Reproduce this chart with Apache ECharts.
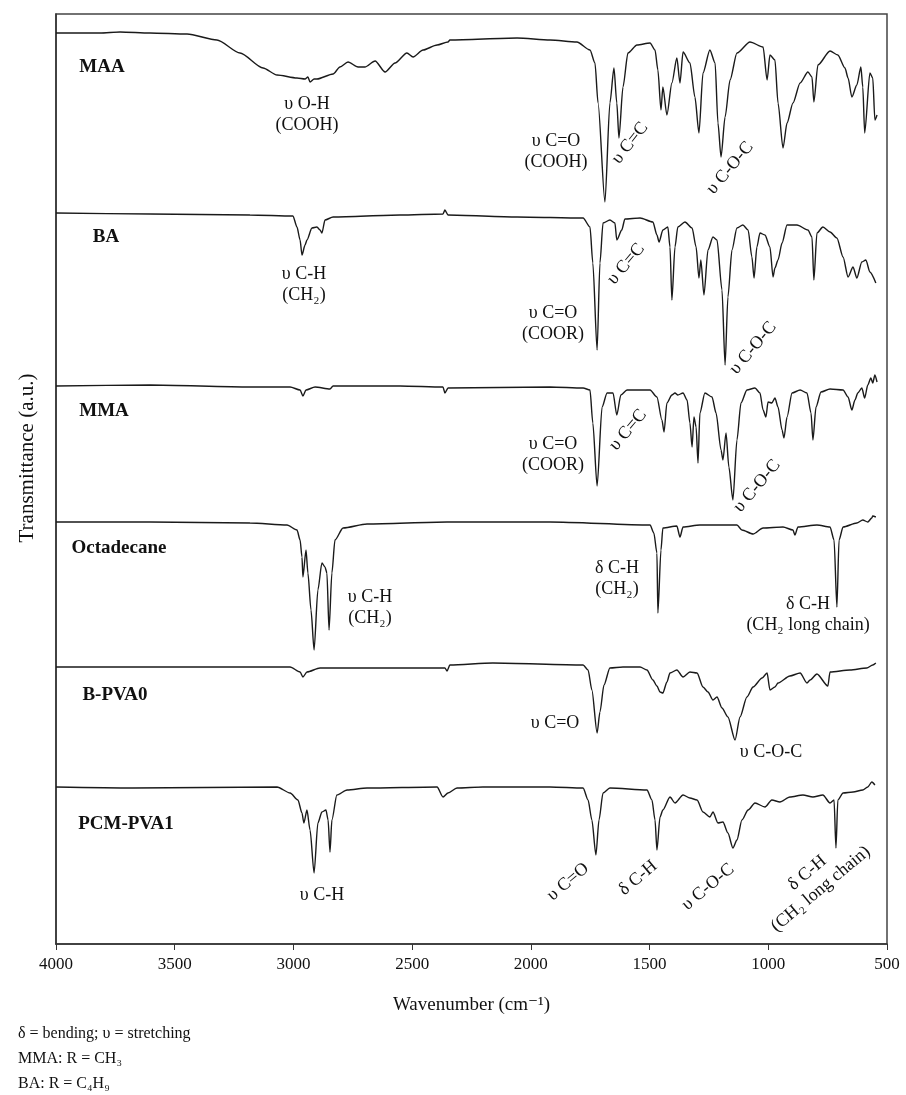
<!DOCTYPE html>
<html>
<head>
<meta charset="utf-8">
<script src="https://cdn.jsdelivr.net/npm/echarts@6/dist/echarts.min.js"></script>
<style>
  html, body { margin: 0; padding: 0; background: #fff; }
  #chart { width: 906px; height: 1095px; }
</style>
</head>
<body>
<div id="chart"></div>
<script>
// FTIR spectra, [wavenumber (cm-1), transmittance (a.u., stacked)]
var xTicks = [4000, 3500, 3000, 2500, 2000, 1500, 1000, 500];
var sampleNames = ["MAA", "BA", "MMA", "Octadecane", "B-PVA0", "PCM-PVA1"];

var maaData = [
  [4000, 911], [3815, 911], [3730, 912], [3604, 911], [3448, 910], [3322, 904], [3225, 891],
  [3128, 876], [3069, 869], [2985, 866], [2951, 865], [2939, 867], [2930, 862], [2913, 865],
  [2901, 865], [2833, 870], [2804, 877], [2770, 882], [2728, 877], [2699, 877], [2656, 883],
  [2614, 872], [2572, 881], [2522, 891], [2496, 887], [2454, 894], [2395, 899], [2349, 902],
  [2341, 904], [2058, 906], [1919, 904], [1806, 902], [1751, 894], [1730, 881], [1717, 841],
  [1688, 742], [1667, 841], [1650, 876], [1638, 841], [1629, 806], [1612, 857], [1591, 891],
  [1553, 899], [1498, 901], [1477, 894], [1465, 874], [1452, 834], [1444, 857], [1427, 829],
  [1406, 861], [1385, 886], [1372, 861], [1359, 892], [1330, 881], [1309, 847], [1292, 811],
  [1275, 871], [1246, 894], [1224, 881], [1212, 821], [1199, 787], [1182, 827], [1161, 864],
  [1132, 891], [1077, 902], [1022, 897], [1005, 864], [993, 889], [972, 884], [959, 841],
  [938, 796], [921, 821], [896, 841], [866, 861], [833, 872], [816, 867], [808, 842],
  [791, 879], [740, 893], [707, 889], [677, 876], [664, 866], [648, 847], [627, 859],
  [610, 877], [602, 857], [594, 811], [572, 871], [560, 866], [551, 824], [542, 829]
];

var baData = [
  [4000, 731], [3604, 730], [3183, 729], [3002, 728], [2985, 717], [2972, 704], [2964, 689],
  [2951, 699], [2943, 704], [2922, 716], [2901, 717], [2888, 714], [2880, 711], [2867, 724],
  [2833, 727], [2551, 729], [2370, 730], [2362, 734], [2349, 729], [2058, 727], [1780, 726],
  [1751, 717], [1739, 681], [1721, 594], [1709, 681], [1696, 721], [1667, 724], [1646, 721],
  [1638, 704], [1617, 714], [1604, 725], [1540, 726], [1486, 722], [1469, 709], [1460, 702],
  [1444, 714], [1423, 717], [1414, 697], [1406, 644], [1393, 697], [1381, 717], [1351, 722],
  [1321, 716], [1304, 697], [1292, 666], [1284, 684], [1271, 649], [1254, 694], [1233, 707],
  [1216, 704], [1195, 654], [1182, 579], [1170, 647], [1153, 694], [1132, 716], [1107, 719],
  [1085, 714], [1069, 687], [1060, 666], [1048, 697], [1035, 711], [1014, 709], [993, 697],
  [980, 667], [972, 676], [959, 684], [942, 701], [921, 719], [879, 719], [833, 714],
  [816, 707], [808, 664], [795, 711], [770, 717], [740, 712], [711, 706], [685, 687],
  [664, 667], [643, 677], [627, 666], [606, 682], [589, 684], [572, 672], [547, 661]
];

var mmaData = [
  [4000, 558], [3604, 559], [3183, 557], [3014, 557], [2972, 554], [2960, 548], [2947, 554],
  [2909, 557], [2846, 555], [2833, 558], [2551, 558], [2370, 557], [2362, 551], [2349, 556],
  [1919, 557], [1780, 556], [1751, 554], [1739, 521], [1721, 458], [1700, 537], [1679, 551],
  [1654, 551], [1638, 529], [1621, 549], [1595, 554], [1498, 554], [1469, 547], [1448, 524],
  [1439, 512], [1427, 541], [1406, 549], [1393, 551], [1381, 549], [1359, 551], [1342, 544],
  [1330, 521], [1321, 497], [1313, 527], [1304, 517], [1296, 481], [1288, 531], [1267, 551],
  [1237, 547], [1220, 531], [1199, 494], [1191, 484], [1178, 511], [1166, 477], [1149, 444],
  [1132, 504], [1115, 541], [1090, 554], [1056, 556], [1035, 551], [1022, 534], [1010, 527],
  [1001, 542], [985, 541], [972, 546], [959, 537], [942, 514], [934, 506], [921, 527],
  [900, 551], [866, 554], [837, 551], [820, 531], [812, 504], [799, 537], [778, 552],
  [740, 555], [685, 554], [664, 547], [648, 534], [635, 544], [623, 551], [606, 556],
  [594, 546], [581, 559], [568, 566], [560, 561], [551, 569], [542, 562]
];

var octadecaneData = [
  [4000, 422], [3604, 422], [3183, 421], [3027, 419], [2985, 414], [2972, 404], [2964, 387],
  [2960, 367], [2947, 394], [2939, 371], [2926, 334], [2913, 294], [2897, 354], [2880, 381],
  [2867, 377], [2859, 371], [2850, 314], [2838, 371], [2825, 404], [2791, 416], [2690, 420],
  [2353, 422], [1919, 422], [1498, 419], [1482, 411], [1469, 391], [1465, 331], [1452, 394],
  [1444, 416], [1385, 418], [1372, 407], [1359, 417], [1288, 419], [1132, 419], [1111, 414],
  [1064, 410], [1022, 416], [938, 417], [896, 414], [888, 409], [875, 417], [795, 419],
  [740, 417], [723, 404], [711, 337], [702, 404], [685, 417], [627, 421], [602, 424],
  [581, 422], [564, 426], [560, 428], [547, 427]
];

var bpva0Data = [
  [4000, 277], [3604, 277], [3014, 277], [2972, 272], [2960, 267], [2943, 272], [2888, 276],
  [2833, 276], [2362, 276], [2353, 273], [2341, 279], [2160, 281], [1780, 279], [1759, 274],
  [1743, 254], [1721, 211], [1709, 232], [1692, 259], [1667, 276], [1612, 277], [1540, 277],
  [1511, 274], [1486, 264], [1469, 258], [1456, 252], [1444, 251], [1427, 262], [1414, 271],
  [1385, 274], [1359, 267], [1330, 272], [1300, 271], [1275, 257], [1254, 252], [1233, 244],
  [1216, 247], [1195, 236], [1170, 227], [1140, 204], [1119, 227], [1090, 247], [1064, 257],
  [1026, 266], [1005, 271], [993, 254], [972, 257], [959, 261], [909, 268], [866, 271],
  [837, 261], [824, 264], [795, 270], [749, 258], [740, 272], [656, 274], [585, 276],
  [560, 279], [547, 281]
];

var pcmPva1Data = [
  [4000, 157], [3676, 156], [3069, 157], [3014, 151], [2981, 144], [2964, 131], [2956, 121],
  [2943, 134], [2930, 114], [2913, 71], [2897, 121], [2880, 132], [2863, 134], [2854, 124],
  [2846, 92], [2838, 124], [2817, 149], [2774, 154], [2690, 156], [2395, 157], [2370, 147],
  [2349, 151], [2311, 156], [2202, 157], [1919, 157], [1780, 156], [1759, 144], [1743, 124],
  [1726, 89], [1713, 124], [1696, 151], [1667, 156], [1511, 154], [1490, 144], [1477, 124],
  [1469, 94], [1456, 127], [1444, 134], [1414, 147], [1393, 141], [1359, 149], [1330, 146],
  [1300, 144], [1275, 132], [1246, 127], [1233, 132], [1212, 121], [1191, 122], [1170, 111],
  [1149, 96], [1132, 104], [1111, 124], [1085, 134], [1056, 141], [1014, 137], [985, 144],
  [951, 142], [909, 147], [854, 149], [812, 147], [770, 149], [740, 141], [723, 144],
  [715, 96], [707, 144], [685, 151], [643, 152], [602, 154], [581, 157], [564, 162], [551, 159]
];

var spectra = [maaData, baData, mmaData, octadecaneData, bpva0Data, pcmPva1Data];

var serif = '"Liberation Serif", "Times New Roman", "DejaVu Serif", serif';

function label(x, y, text, size, bold, angle) {
  return {
    type: "text",
    x: x,
    y: y,
    rotation: ((angle || 0) * Math.PI) / 180,
    silent: true,
    style: {
      text: text,
      x: 0,
      y: 0,
      fill: "#111",
      font: (bold ? "bold " : "") + size + "px " + serif,
      align: "center",
      verticalAlign: "middle",
      lineHeight: size + 3,
    },
  };
}

var chart = echarts.init(document.getElementById("chart"), null, { renderer: "canvas" });

var option = {
  animation: false,
  backgroundColor: "#fff",
  grid: {
    left: 56,
    top: 14,
    right: 19,
    bottom: 151,
    show: true,
    borderColor: "#444",
    borderWidth: 1.5,
  },
  xAxis: {
    type: "value",
    min: 500,
    max: 4000,
    interval: 500,
    inverse: true,
    axisLine: { show: true, lineStyle: { color: "#333", width: 1.5 } },
    axisTick: { show: true, inside: false, length: 6, lineStyle: { color: "#333" } },
    splitLine: { show: false },
    axisLabel: {
      color: "#111",
      fontFamily: serif,
      fontSize: 17,
      margin: 12,
      formatter: function (v) {
        return xTicks.indexOf(v) >= 0 ? String(v) : "";
      },
    },
    name: "Wavenumber (cm⁻¹)",
    nameLocation: "middle",
    nameGap: 52,
    nameTextStyle: { color: "#111", fontFamily: serif, fontSize: 19 },
  },
  yAxis: {
    type: "value",
    min: 0,
    max: 930,
    axisLine: { show: true, lineStyle: { color: "#333", width: 1.5 } },
    axisTick: { show: false },
    axisLabel: { show: false },
    splitLine: { show: false },
  },
  series: spectra.map(function (d, i) {
    return {
      name: sampleNames[i],
      type: "line",
      data: d,
      showSymbol: false,
      smooth: 0.25,
      smoothMonotone: "x",
      lineStyle: { color: "#1a1a1a", width: 1.4 },
    };
  }),
  graphic: [
    label(27, 458, "Transmittance (a.u.)", 21, false, 90),
    // sample names
    label(102, 67, sampleNames[0], 19, true),
    label(106, 237, sampleNames[1], 19, true),
    label(104, 411, sampleNames[2], 19, true),
    label(119, 548, sampleNames[3], 19, true),
    label(115, 695, sampleNames[4], 19, true),
    label(126, 824, sampleNames[5], 19, true),
    // MAA
    label(307, 115, "υ O-H\n(COOH)", 18),
    label(556, 152, "υ C=O\n(COOH)", 18),
    label(630, 143, "υ C=C", 18, false, 52),
    label(730, 168, "υ C-O-C", 18, false, 50),
    // BA
    label(304, 285, "υ C-H\n(CH₂)", 18),
    label(553, 324, "υ C=O\n(COOR)", 18),
    label(626, 264, "υ C=C", 18, false, 50),
    label(753, 348, "υ C-O-C", 18, false, 50),
    // MMA
    label(553, 455, "υ C=O\n(COOR)", 18),
    label(628, 430, "υ C=C", 18, false, 50),
    label(757, 486, "υ C-O-C", 18, false, 50),
    // Octadecane
    label(370, 608, "υ C-H\n(CH₂)", 18),
    label(617, 579, "δ C-H\n(CH₂)", 18),
    label(808, 615, "δ C-H\n(CH₂ long chain)", 18),
    // B-PVA0
    label(555, 723, "υ C=O", 18),
    label(771, 752, "υ C-O-C", 18),
    // PCM-PVA1
    label(322, 895, "υ C-H", 18),
    label(568, 882, "υ C=O", 18, false, 40),
    label(638, 878, "δ C-H", 18, false, 40),
    label(708, 887, "υ C-O-C", 18, false, 40),
    label(814, 881, "δ C-H\n(CH₂ long chain)", 18, false, 40),
    // notes
    {
      type: "text",
      left: 18,
      top: 1021,
      silent: true,
      style: {
        text: "δ = bending; υ = stretching\nMMA: R = CH₃\nBA: R = C₄H₉",
        fill: "#111",
        font: "16px " + serif,
        lineHeight: 25,
      },
    },
  ],
};

chart.setOption(option);
</script>
</body>
</html>
